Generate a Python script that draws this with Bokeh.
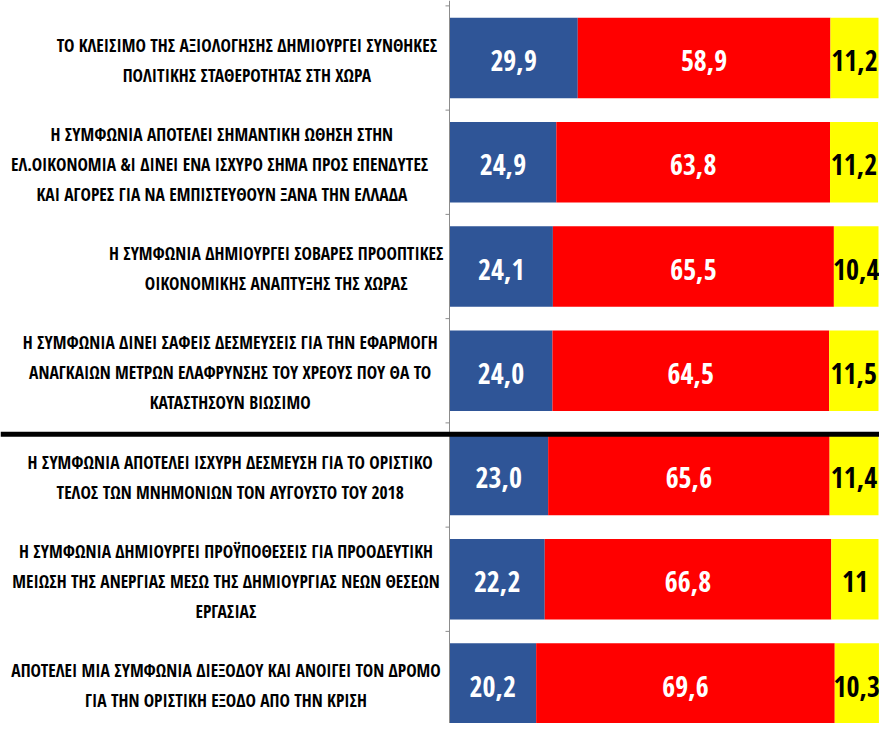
from bokeh.plotting import figure
from bokeh.models import Span, Range1d
from bokeh.core.properties import value
from bokeh.embed import file_html
from bokeh.resources import INLINE

categories = [
    "ΤΟ ΚΛΕΙΣΙΜΟ ΤΗΣ ΑΞΙΟΛΟΓΗΣΗΣ ΔΗΜΙΟΥΡΓΕΙ ΣΥΝΘΗΚΕΣ\nΠΟΛΙΤΙΚΗΣ ΣΤΑΘΕΡΟΤΗΤΑΣ ΣΤΗ ΧΩΡΑ",
    "Η ΣΥΜΦΩΝΙΑ ΑΠΟΤΕΛΕΙ ΣΗΜΑΝΤΙΚΗ ΩΘΗΣΗ ΣΤΗΝ\nΕΛ.ΟΙΚΟΝΟΜΙΑ &Ι ΔΙΝΕΙ ΕΝΑ ΙΣΧΥΡΟ ΣΗΜΑ  ΠΡΟΣ ΕΠΕΝΔΥΤΕΣ\nΚΑΙ ΑΓΟΡΕΣ ΓΙΑ ΝΑ ΕΜΠΙΣΤΕΥΘΟΥΝ ΞΑΝΑ ΤΗΝ ΕΛΛΑΔΑ",
    "Η ΣΥΜΦΩΝΙΑ ΔΗΜΙΟΥΡΓΕΙ ΣΟΒΑΡΕΣ ΠΡΟΟΠΤΙΚΕΣ\nΟΙΚΟΝΟΜΙΚΗΣ ΑΝΑΠΤΥΞΗΣ ΤΗΣ ΧΩΡΑΣ",
    "Η ΣΥΜΦΩΝΙΑ ΔΙΝΕΙ ΣΑΦΕΙΣ ΔΕΣΜΕΥΣΕΙΣ ΓΙΑ ΤΗΝ ΕΦΑΡΜΟΓΗ\nΑΝΑΓΚΑΙΩΝ ΜΕΤΡΩΝ ΕΛΑΦΡΥΝΣΗΣ ΤΟΥ ΧΡΕΟΥΣ ΠΟΥ ΘΑ ΤΟ\nΚΑΤΑΣΤΗΣΟΥΝ ΒΙΩΣΙΜΟ",
    "Η ΣΥΜΦΩΝΙΑ ΑΠΟΤΕΛΕΙ ΙΣΧΥΡΗ ΔΕΣΜΕΥΣΗ ΓΙΑ ΤΟ ΟΡΙΣΤΙΚΟ\nΤΕΛΟΣ ΤΩΝ ΜΝΗΜΟΝΙΩΝ ΤΟΝ ΑΥΓΟΥΣΤΟ ΤΟΥ 2018",
    "Η ΣΥΜΦΩΝΙΑ ΔΗΜΙΟΥΡΓΕΙ ΠΡΟΫΠΟΘΕΣΕΙΣ ΓΙΑ ΠΡΟΟΔΕΥΤΙΚΗ\nΜΕΙΩΣΗ ΤΗΣ ΑΝΕΡΓΙΑΣ ΜΕΣΩ ΤΗΣ ΔΗΜΙΟΥΡΓΙΑΣ ΝΕΩΝ ΘΕΣΕΩΝ\nΕΡΓΑΣΙΑΣ",
    "ΑΠΟΤΕΛΕΙ ΜΙΑ ΣΥΜΦΩΝΙΑ ΔΙΕΞΟΔΟΥ ΚΑΙ ΑΝΟΙΓΕΙ ΤΟΝ ΔΡΟΜΟ\nΓΙΑ ΤΗΝ ΟΡΙΣΤΙΚΗ ΕΞΟΔΟ ΑΠΟ ΤΗΝ ΚΡΙΣΗ",
]
blue = [29.9, 24.9, 24.1, 24.0, 23.0, 22.2, 20.2]
red = [58.9, 63.8, 65.5, 64.5, 65.6, 66.8, 69.6]
yellow = [11.2, 11.2, 10.4, 11.5, 11.4, 11, 10.3]
separator_after = 4  # black rule drawn after the 4th statement

BLUE, RED, YELLOW = "#2F5597", "#FF0000", "#FFFF00"
FONT = value("Open Sans Condensed")

W, H = 879, 723
AXIS_PX = 449
PX_PER_UNIT_X = (W - 1 - AXIS_PX) / 100.0
PX_PER_UNIT_Y = 104.25
FIRST_CENTER_PX = 57.5
LABEL_SIZE = 17.5
VALUE_SIZE = 28


def fmt(v):
    if isinstance(v, int):
        return str(v)
    return f"{v:.1f}".replace(".", ",")


n = len(categories)
ys = [n - 1 - i for i in range(n)]

y_top = (n - 1) + FIRST_CENTER_PX / PX_PER_UNIT_Y
y_bot = y_top - H / PX_PER_UNIT_Y
p = figure(width=W, height=H, output_backend="svg", toolbar_location=None,
           x_range=Range1d(-AXIS_PX / PX_PER_UNIT_X, (W - AXIS_PX) / PX_PER_UNIT_X),
           y_range=Range1d(y_bot, y_top),
           min_border=0, outline_line_color=None, background_fill_color="white",
           border_fill_color="white")
p.xaxis.visible = False
p.yaxis.visible = False
p.xgrid.visible = False
p.ygrid.visible = False

b_left = [0.0] * n
b_right = blue[:]
r_left = blue[:]
r_right = [b + r for b, r in zip(blue, red)]
y_left = r_right[:]
y_right = [a + y for a, y in zip(r_right, yellow)]

bh = 0.77
p.hbar(y=ys, left=b_left, right=b_right, height=bh, fill_color=BLUE, line_color=None)
p.hbar(y=ys, left=r_left, right=r_right, height=bh, fill_color=RED, line_color=None)
p.hbar(y=ys, left=y_left, right=y_right, height=bh, fill_color=YELLOW, line_color=None)

# value labels
vy = [y - 2.5 / PX_PER_UNIT_Y for y in ys]
for lefts, rights, vals, col in [(b_left, b_right, blue, "white"),
                                 (r_left, r_right, red, "white"),
                                 (y_left, y_right, yellow, "black")]:
    p.text(x=[(a + b) / 2 for a, b in zip(lefts, rights)], y=vy, text=[fmt(v) for v in vals],
           text_color=col, text_font=FONT, text_font_style="bold",
           text_font_size=f"{VALUE_SIZE}px", text_align="center", text_baseline="middle")

# category labels: lines centred, block right-aligned near the axis
right_edge = -6 / PX_PER_UNIT_X
char_px = 0.478 * LABEL_SIZE
lx, ly, lt = [], [], []
for cat, yc in zip(categories, ys):
    lines = cat.split("\n")
    maxw = max(len(l) for l in lines) * char_px / PX_PER_UNIT_X
    cx = right_edge - maxw / 2
    k = len(lines)
    for j, line in enumerate(lines):
        off_px = (j - (k - 1) / 2) * 30 + 1.5
        lx.append(cx)
        ly.append(yc - off_px / PX_PER_UNIT_Y)
        lt.append(line)
p.text(x=lx, y=ly, text=lt, text_color="black", text_font=FONT, text_font_style="bold",
       text_font_size=f"{LABEL_SIZE}px", text_align="center", text_baseline="middle")

# axis line and ticks
p.add_layout(Span(location=0, dimension="height", line_color="#8C8C8C", line_width=1))
tick_y = [k + 0.5 for k in range(-1, n)]
p.segment(x0=[-4 / PX_PER_UNIT_X] * len(tick_y), x1=[0] * len(tick_y), y0=tick_y, y1=tick_y,
          line_color="#8C8C8C", line_width=1)

# separator
sep_y = ys[separator_after - 1] - 0.61
p.add_layout(Span(location=sep_y, dimension="width", line_color="black", line_width=5))

open("out.html", "w").write(file_html(p, INLINE))
